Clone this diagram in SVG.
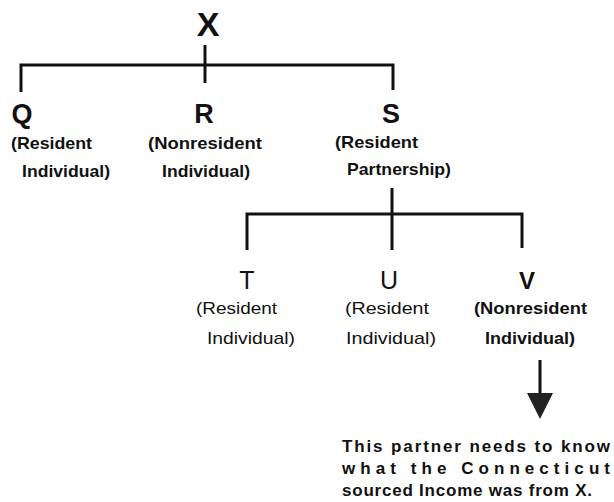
<svg xmlns="http://www.w3.org/2000/svg" width="614" height="502" viewBox="0 0 614 502">
<style>
.ln{stroke:#111;stroke-width:3;fill:none;stroke-linecap:butt}
.big{font-family:"Liberation Sans",Arial,sans-serif;font-weight:bold;fill:#111;text-anchor:middle}
.bigr{font-family:"Liberation Sans",Arial,sans-serif;font-weight:normal;fill:#111;text-anchor:middle}
.lb{font-family:"Liberation Sans",Arial,sans-serif;font-weight:bold;font-size:17px;fill:#111}
.lr{font-family:"Liberation Sans",Arial,sans-serif;font-weight:normal;font-size:17px;fill:#111}
.nt{font-family:"Liberation Sans",Arial,sans-serif;font-weight:bold;font-size:17px;fill:#111}
</style>
<rect width="614" height="502" fill="#fff"/>
<g id="connectors">
<path class="ln" d="M205 45 V83"/>
<path class="ln" d="M21 92 V65 H393 V90"/>
<path class="ln" d="M392 188 V250"/>
<path class="ln" d="M247 250 V214 H522 V248"/>
<path class="ln" d="M540 360 V394"/>
<polygon points="527,393 553,393 540,419" fill="#222"/>
</g>
<g id="X"><text class="big" x="208" y="36" font-size="34">X</text></g>
<g id="Q">
<text class="big" x="22" y="123" font-size="27">Q</text>
<text class="lb" x="11" y="149" textLength="81" lengthAdjust="spacingAndGlyphs">(Resident</text>
<text class="lb" x="22" y="177" textLength="88" lengthAdjust="spacingAndGlyphs">Individual)</text>
</g>
<g id="R">
<text class="big" x="204" y="123" font-size="27">R</text>
<text class="lb" x="148" y="149" textLength="114" lengthAdjust="spacingAndGlyphs">(Nonresident</text>
<text class="lb" x="162" y="177" textLength="88" lengthAdjust="spacingAndGlyphs">Individual)</text>
</g>
<g id="S">
<text class="big" x="391" y="123" font-size="27">S</text>
<text class="lb" x="335" y="148" textLength="83" lengthAdjust="spacingAndGlyphs">(Resident</text>
<text class="lb" x="347" y="175" textLength="104" lengthAdjust="spacingAndGlyphs">Partnership)</text>
</g>
<g id="T">
<text class="bigr" x="247" y="289" font-size="25">T</text>
<text class="lr" x="196" y="314" textLength="81" lengthAdjust="spacingAndGlyphs">(Resident</text>
<text class="lr" x="207" y="344" textLength="88" lengthAdjust="spacingAndGlyphs">Individual)</text>
</g>
<g id="U">
<text class="bigr" x="389" y="289" font-size="25">U</text>
<text class="lr" x="345" y="314" textLength="84" lengthAdjust="spacingAndGlyphs">(Resident</text>
<text class="lr" x="346" y="344" textLength="90" lengthAdjust="spacingAndGlyphs">Individual)</text>
</g>
<g id="V">
<text class="big" x="527" y="289" font-size="24">V</text>
<text class="lb" x="474" y="314" textLength="113" lengthAdjust="spacingAndGlyphs">(Nonresident</text>
<text class="lb" x="485" y="344" textLength="90" lengthAdjust="spacingAndGlyphs">Individual)</text>
</g>
<g id="note">
<text class="nt" x="342" y="452" textLength="268" lengthAdjust="spacing">This partner needs to know</text>
<text class="nt" x="342" y="474" textLength="268" lengthAdjust="spacing">what the Connecticut</text>
<text class="nt" x="342" y="496" textLength="250" lengthAdjust="spacing">sourced Income was from X.</text>
</g>
</svg>
